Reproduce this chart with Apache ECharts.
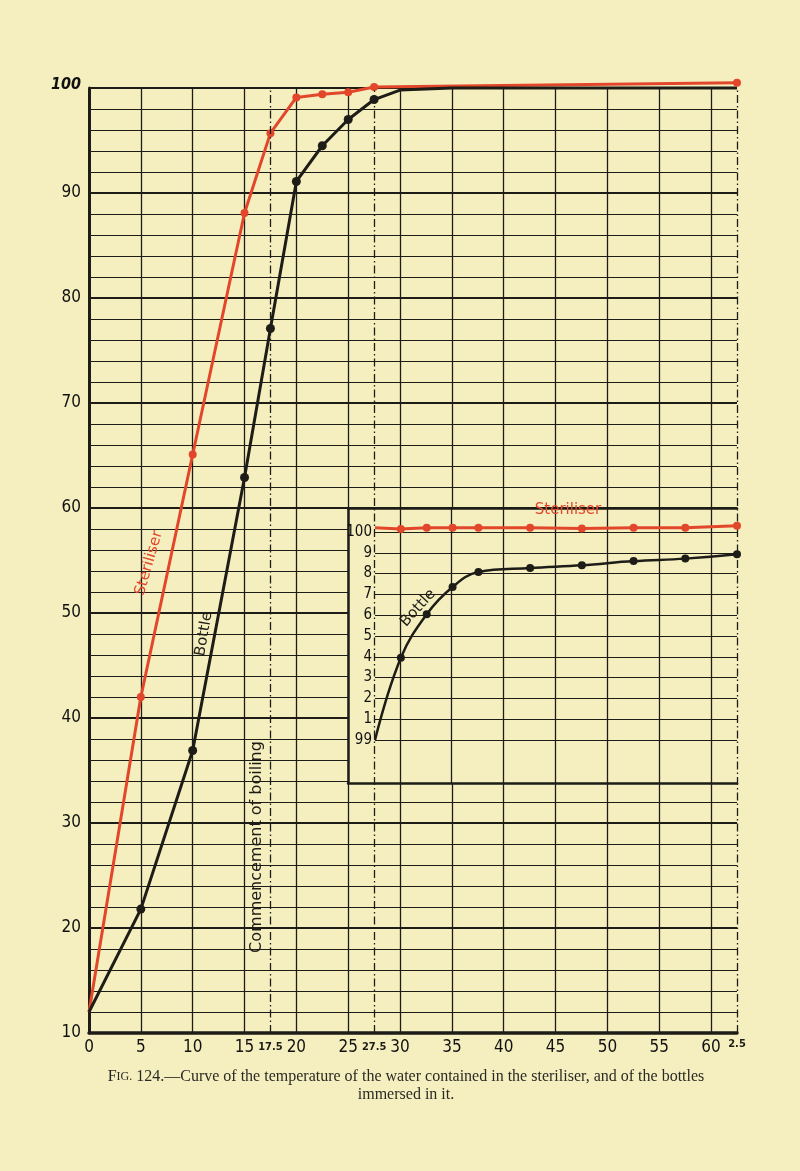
<!DOCTYPE html>
<html><head><meta charset="utf-8">
<script src="https://cdn.jsdelivr.net/npm/echarts@6.0.0/dist/echarts.min.js"></script>
<style>html,body{margin:0;padding:0;background:#f5efbf;}#c{width:800px;height:1171px;}</style>
</head><body><div id="c"></div>
<script>
// ---- data ----
const mainSterX   = [0, 5, 10, 15, 17.5, 20, 22.5, 25, 27.5, 62.5];
const mainSterY   = [12, 42, 65.1, 88.1, 95.7, 99.1, 99.4, 99.6, 100.1, 100.5];
const mainSterMk  = [0, 1, 1, 1, 1, 1, 1, 1, 1, 1];
const mainBotX    = [0, 5, 10, 15, 17.5, 20, 22.5, 25, 27.5, 30, 35, 62.5];
const mainBotY    = [12, 21.8, 36.9, 62.9, 77.1, 91.1, 94.5, 97.0, 98.9, 99.8, 100, 100];
const mainBotMk   = [0, 1, 1, 1, 1, 1, 1, 1, 1, 0, 0, 0];
const insetX      = [27.5, 30, 32.5, 35, 37.5, 42.5, 47.5, 52.5, 57.5, 62.5];
const insetSterY  = [100.02, 100.014, 100.02, 100.02, 100.02, 100.02, 100.017, 100.02, 100.02, 100.03];
const insetSterMk = [0, 1, 1, 1, 1, 1, 1, 1, 1, 1];
const insetBotY   = [99.0, 99.395, 99.605, 99.736, 99.808, 99.827, 99.84, 99.86, 99.872, 99.893];
const insetBotMk  = [0, 1, 1, 1, 1, 1, 1, 1, 1, 1];
const dashLinesX  = [17.5, 27.5, 62.5];
const dashLabels  = ['17.5', '27.5', ''];
const xEndLabel   = '2.5';
const insetTickLabels = ['99', '1', '2', '3', '4', '5', '6', '7', '8', '9', '100'];

// ---- style ----
const BG = '#f5efbf', INK = '#1d1c17', RED = '#e2472b';
const FONT = '"DejaVu Sans Condensed","Liberation Sans Narrow","DejaVu Sans",sans-serif';
const SANS = '"DejaVu Sans",sans-serif';
const SERIF = '"Liberation Serif","DejaVu Serif",serif';
const deg = d => d * Math.PI / 180;
const pts = (xs, ys) => xs.map((x, i) => [x, ys[i]]);
const symFn = mk => (v, p) => mk[p.dataIndex] ? 'circle' : 'none';

const chart = echarts.init(document.getElementById('c'), null, {width: 800, height: 1171});
chart.setOption({
  backgroundColor: BG,
  animation: false,
  grid: [
    {left: 89, top: 88, width: 648, height: 945},
    {left: 348, top: 508, width: 389, height: 275, show: true, backgroundColor: BG, borderWidth: 0, z: 3},
    {left: 375, top: 532, width: 362, height: 208, z: 3}
  ],
  xAxis: [
    {gridIndex: 0, type: 'value', min: 0, max: 62.5, interval: 5,
     axisLine: {lineStyle: {color: INK, width: 3.5}}, axisTick: {show: false},
     axisLabel: {margin: 6, fontSize: 17, color: '#111', fontFamily: FONT, showMaxLabel: true,
       formatter: v => v === 62.5 ? '{s|' + xEndLabel + '}' : String(v),
       rich: {s: {fontSize: 11, fontWeight: 'bold', color: INK, fontFamily: FONT}}},
     splitLine: {show: true, showMaxLine: false, lineStyle: {color: INK, width: 1.3}}},
    {gridIndex: 1, type: 'value', min: 25, max: 62.5, interval: 5, position: 'bottom', z: 3,
     axisLine: {show: true, onZero: false, lineStyle: {color: INK, width: 2.5}}, axisTick: {show: false},
     axisLabel: {show: false},
     splitLine: {show: true, showMinLine: false, showMaxLine: false, lineStyle: {color: INK, width: 1.3}}},
    {gridIndex: 1, type: 'value', min: 25, max: 62.5, position: 'top', z: 3,
     axisLine: {show: true, onZero: false, lineStyle: {color: INK, width: 2.5}}, axisTick: {show: false},
     axisLabel: {show: false}, splitLine: {show: false}},
    {gridIndex: 2, type: 'value', min: 27.5, max: 62.5, show: false}
  ],
  yAxis: [
    {gridIndex: 0, type: 'value', min: 10, max: 100, interval: 10,
     axisLine: {show: true, lineStyle: {color: INK, width: 3}}, axisTick: {show: false},
     axisLabel: {margin: 8, fontSize: 17, color: '#111', fontFamily: FONT,
       formatter: v => v === 100 ? '{i|100}' : String(v),
       rich: {i: {fontSize: 16, fontStyle: 'italic', fontWeight: 'bold', color: '#111', fontFamily: FONT, padding: [0, 0, 6, 0]}}},
     splitLine: {show: true, lineStyle: {color: INK, width: 2.2}}},
    {gridIndex: 0, type: 'value', min: 10, max: 100, interval: 2,
     axisLine: {show: false}, axisTick: {show: false}, axisLabel: {show: false},
     splitLine: {show: true, lineStyle: {color: INK, width: 1.2}}},
    {gridIndex: 1, type: 'value', min: 0, max: 1, z: 3,
     axisLine: {show: true, onZero: false, lineStyle: {color: INK, width: 2.5}}, axisTick: {show: false},
     axisLabel: {show: false}, splitLine: {show: false}},
    {gridIndex: 2, type: 'value', min: 99, max: 100, interval: 0.1, z: 3,
     axisLine: {show: false}, axisTick: {show: false},
     axisLabel: {margin: 3, fontSize: 15, color: '#111', fontFamily: FONT, padding: [0, 0, 8, 0],
       formatter: v => insetTickLabels[Math.round((v - 99) * 10)]},
     splitLine: {show: true, lineStyle: {color: INK, width: 1.2}}}
  ],
  series: [
    {type: 'line', name: 'Steriliser', xAxisIndex: 0, yAxisIndex: 0, z: 4, clip: false,
     data: pts(mainSterX, mainSterY), symbol: symFn(mainSterMk), symbolSize: 8,
     lineStyle: {color: RED, width: 3}, itemStyle: {color: RED}},
    {type: 'line', name: 'Bottle', xAxisIndex: 0, yAxisIndex: 0, z: 4, clip: false,
     data: pts(mainBotX, mainBotY), symbol: symFn(mainBotMk), symbolSize: 9,
     lineStyle: {color: INK, width: 3}, itemStyle: {color: INK},
     markLine: {silent: true, symbol: ['none', 'none'],
       lineStyle: {color: INK, width: 1.3, type: [8, 3, 1.5, 3]},
       label: {show: true, position: 'start', distance: 9, color: INK, fontSize: 11, fontWeight: 'bold', fontFamily: FONT},
       data: dashLinesX.map((x, i) => ({xAxis: x, label: {show: dashLabels[i] !== '', formatter: dashLabels[i]}}))}},
    {type: 'line', name: 'Steriliser inset', xAxisIndex: 3, yAxisIndex: 3, z: 5, clip: false,
     data: pts(insetX, insetSterY), symbol: symFn(insetSterMk), symbolSize: 8,
     lineStyle: {color: RED, width: 3}, itemStyle: {color: RED}},
    {type: 'line', name: 'Bottle inset', xAxisIndex: 3, yAxisIndex: 3, z: 5, clip: false, smooth: 0.4,
     data: pts(insetX, insetBotY), symbol: symFn(insetBotMk), symbolSize: 8,
     lineStyle: {color: INK, width: 2.5}, itemStyle: {color: INK}}
  ],
  graphic: [
    {type: 'text', x: 149, y: 563, rotation: deg(74), z: 10,
     style: {text: 'Steriliser', fill: RED, font: '15px ' + SANS, align: 'center', verticalAlign: 'middle'}},
    {type: 'text', x: 204, y: 634, rotation: deg(80), z: 10,
     style: {text: 'Bottle', fill: INK, font: '15px ' + SANS, align: 'center', verticalAlign: 'middle'}},
    {type: 'text', x: 257, y: 847, rotation: deg(90), z: 10,
     style: {text: 'Commencement of boiling', fill: INK, font: '16px ' + SANS, align: 'center', verticalAlign: 'middle'}},
    {type: 'text', x: 418, y: 608, rotation: deg(48), z: 10,
     style: {text: 'Bottle', fill: INK, font: '15px ' + SANS, align: 'center', verticalAlign: 'middle'}},
    {type: 'text', x: 568, y: 510, z: 10,
     style: {text: 'Steriliser', fill: RED, font: '15px ' + SANS, align: 'center', verticalAlign: 'middle'}},
    {type: 'text', x: 406, y: 1077, z: 10,
     style: {text: '{a|F}{b|IG.} 124.—Curve of the temperature of the water contained in the steriliser, and of the bottles',
       fill: '#2a2a24', font: '16px ' + SERIF, align: 'center', verticalAlign: 'middle',
       rich: {a: {font: '16px ' + SERIF, fill: '#2a2a24'}, b: {font: '12px ' + SERIF, fill: '#2a2a24'}}}},
    {type: 'text', x: 406, y: 1095, z: 10,
     style: {text: 'immersed in it.', fill: '#2a2a24', font: '16px ' + SERIF, align: 'center', verticalAlign: 'middle'}}
  ]
});
</script></body></html>
